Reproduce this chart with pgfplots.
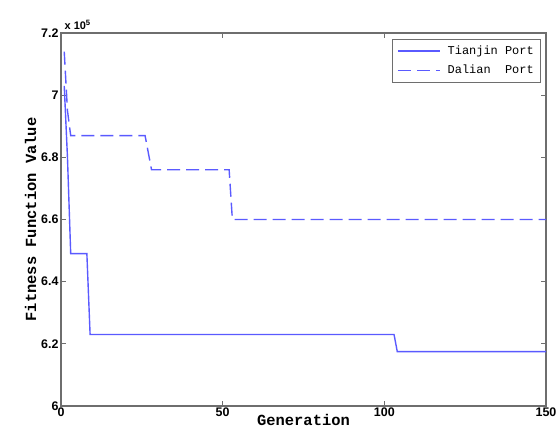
\documentclass[border=0pt]{standalone}
\usepackage{pgfplots}
\pgfplotsset{compat=1.18}
\usepackage{fontspec}
\setmainfont{Liberation Sans}
\newfontfamily\monof{Liberation Mono}
\definecolor{lineblue}{RGB}{90,90,255}
\definecolor{axgray}{RGB}{110,110,110}
\begin{document}
\begin{tikzpicture}
\useasboundingbox (-61bp,-32bp) rectangle (498bp,406bp);
\begin{axis}[
  at={(0,0)}, anchor=south west,
  scale only axis, width=485bp, height=373bp,
  xmin=0, xmax=150, ymin=6, ymax=7.2,
  xtick={0,50,100,150},
  ytick={6,6.2,6.4,6.6,6.8,7,7.2},
  tick align=inside,
  major tick length=5bp,
  axis line style={axgray, line width=1.2pt},
  every tick/.style={axgray, line width=0.8pt},
  tick label style={font=\fontsize{12.5}{14}\selectfont\bfseries},
  /pgf/number format/assume math mode=true,
  xticklabel style={yshift=2bp},
  yticklabel style={xshift=1bp},
  xlabel={\monof\bfseries\fontsize{15.5}{17}\selectfont Generation},
  ylabel={\monof\bfseries\fontsize{15.5}{17}\selectfont Fitness Function Value},
  xlabel style={yshift=9bp},
  ylabel style={yshift=-2bp},
  legend style={at={(0.99,0.985)}, anchor=north east, draw=axgray, line width=0.8pt,
    font=\monof\fontsize{12}{14}\selectfont, inner xsep=5bp, inner ysep=5bp, row sep=5bp,
    legend cell align=left, /tikz/every odd column/.append style={column sep=5bp}},
  legend image code/.code={\draw[#1] (0bp,0bp) -- (42bp,0bp);},
  clip=false,
]
\addplot[lineblue, line width=1.4pt] coordinates {
(1,7.03) (2,6.80) (3,6.49) (8,6.49) (9,6.23) (103,6.23) (104,6.175) (150,6.175)
};
\addlegendentry{Tianjin Port}
\addplot[lineblue, line width=1.4pt, dash pattern=on 13bp off 6bp] coordinates {
(1,7.14) (2,6.95) (3,6.87) (26,6.87) (28,6.76) (52,6.76) (53,6.60) (150,6.60)
};
\addlegendentry{Dalian\ \ Port}
\node[anchor=south west, font=\fontsize{11}{13}\selectfont\bfseries, inner sep=1bp] at (rel axis cs:0.005,1.005) {x $\mathbf{10^{5}}$};
\end{axis}
\end{tikzpicture}
\end{document}
